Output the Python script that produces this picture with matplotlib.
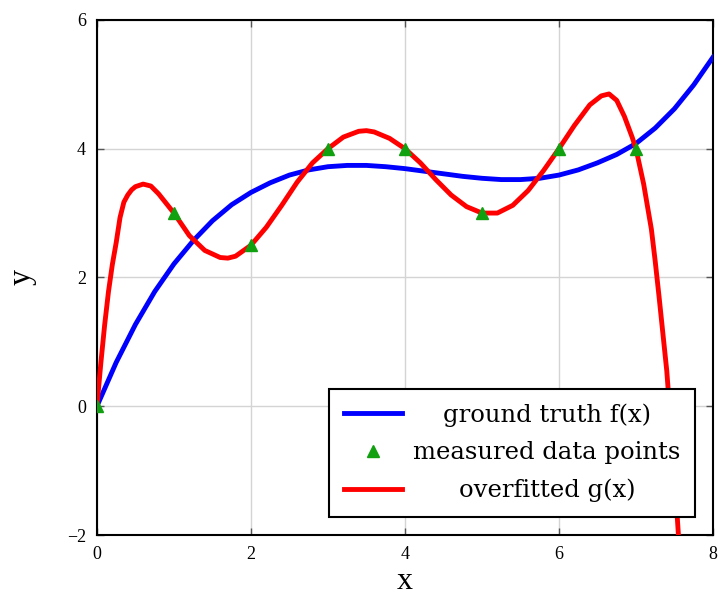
import matplotlib.pyplot as plt
from matplotlib.offsetbox import VPacker, DrawingArea

plt.rcParams['font.family'] = ['Liberation Serif', 'DejaVu Serif']

# measured data points
x_points = [0, 1, 2, 3, 4, 5, 6, 7]
y_points = [0, 3, 2.5, 4, 4, 3, 4, 4]

# ground truth f(x)
x_truth = [0, 0.25, 0.5, 0.75, 1, 1.25, 1.5, 1.75, 2, 2.25, 2.5, 2.75, 3, 3.25,
           3.5, 3.75, 4, 4.25, 4.5, 4.75, 5, 5.25, 5.5, 5.75, 6, 6.25, 6.5,
           6.75, 7, 7.25, 7.5, 7.75, 8]
y_truth = [0, 0.68, 1.27, 1.78, 2.21, 2.57, 2.88, 3.13, 3.32, 3.47, 3.59, 3.67,
           3.72, 3.74, 3.74, 3.72, 3.69, 3.65, 3.61, 3.57, 3.54, 3.52, 3.52,
           3.54, 3.59, 3.67, 3.78, 3.91, 4.08, 4.32, 4.62, 4.99, 5.42]

# overfitted g(x)
x_fit = [0, 0.05, 0.1, 0.15, 0.2, 0.25, 0.3, 0.35, 0.4, 0.45, 0.5, 0.6, 0.7,
         0.8, 0.9, 1.0, 1.2, 1.4, 1.6, 1.7, 1.8, 2.0, 2.2, 2.4, 2.6, 2.8, 3.0,
         3.2, 3.4, 3.5, 3.6, 3.8, 4.0, 4.2, 4.4, 4.6, 4.8, 5.0, 5.2, 5.4, 5.6,
         5.8, 6.0, 6.2, 6.4, 6.55, 6.65, 6.75, 6.85, 6.95, 7.0, 7.1, 7.2, 7.25,
         7.3, 7.4, 7.5, 7.6]
y_fit = [0, 0.66, 1.26, 1.78, 2.2, 2.54, 2.93, 3.17, 3.28, 3.36, 3.41, 3.45,
         3.42, 3.30, 3.15, 3.0, 2.65, 2.42, 2.31, 2.30, 2.33, 2.5, 2.78, 3.12,
         3.48, 3.78, 4.0, 4.18, 4.27, 4.28, 4.26, 4.16, 4.0, 3.78, 3.52, 3.28,
         3.10, 3.0, 3.0, 3.12, 3.35, 3.66, 4.0, 4.36, 4.68, 4.82, 4.85, 4.75,
         4.5, 4.18, 4.0, 3.45, 2.75, 2.25, 1.7, 0.55, -1.05, -2.9]

fig = plt.figure(figsize=(7.18, 5.99), dpi=100)
ax = fig.add_axes([0.135, 0.1068, 0.858, 0.86])

ax.plot(x_truth, y_truth, color='#0000ff', lw=3.5, solid_joinstyle='round',
        label='ground truth f(x)', zorder=3)
ax.plot(x_points, y_points, ls='none', marker='^', ms=9, color='#10a010',
        label='measured data points', zorder=5)
ax.plot(x_fit, y_fit, color='#ff0000', lw=3.5, solid_joinstyle='round',
        label='overfitted g(x)', zorder=4)

ax.set_xlim(0, 8)
ax.set_ylim(-2, 6)
ax.set_xticks([0, 2, 4, 6, 8])
ax.set_yticks([-2, 0, 2, 4, 6])
ax.grid(True, color='#d4d4d4', lw=1)
ax.set_axisbelow(True)
ax.tick_params(direction='in', length=5, width=1, color='#555555',
               top=True, right=True, labelsize=13, pad=8)
for s in ax.spines.values():
    s.set_linewidth(1.5)

ax.set_xlabel('x', fontsize=23, labelpad=3)
ax.set_ylabel('y', fontsize=23, labelpad=22)

leg = ax.legend(loc='lower right', bbox_to_anchor=(0.971, 0.035),
                borderaxespad=0, prop={'family': 'DejaVu Serif', 'size': 17.5},
                fancybox=False, framealpha=1, edgecolor='black',
                handlelength=2.4, handletextpad=0.45, labelspacing=0.6,
                borderpad=0.6)
leg.get_frame().set_linewidth(1.5)

# centre the labels like the original legend
fig.canvas.draw()
r = fig.canvas.get_renderer()
wmax = max(t.get_window_extent(r).width for t in leg.get_texts())
col = leg._legend_handle_box.get_children()[0]
for item in col.get_children():
    ta = item._children[1]
    item._children[1] = VPacker(children=[ta, DrawingArea(wmax * 72 / fig.dpi, 0)],
                                align='center', pad=0, sep=0)

fig.savefig('out.png', dpi=100)
